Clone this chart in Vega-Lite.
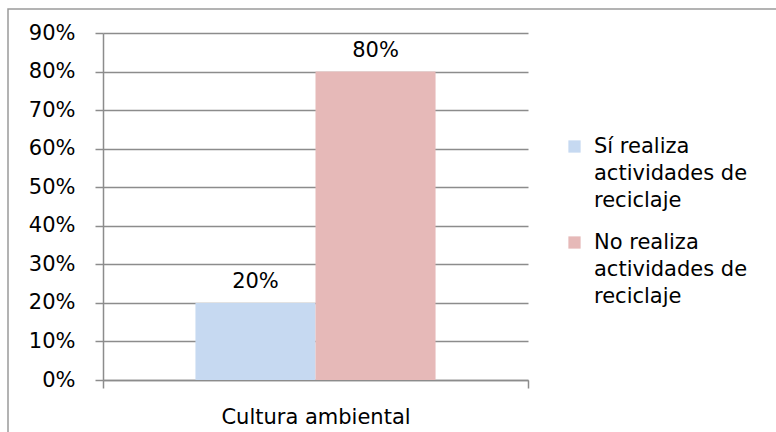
{
  "$schema": "https://vega.github.io/schema/vega-lite/v6.json",
  "width": 780,
  "height": 440,
  "autosize": {"type": "none"},
  "padding": {"left": 8, "top": 9, "right": 0, "bottom": 0},
  "background": "white",
  "data": {
    "values": [
      {"grupo": "Cultura ambiental", "serie": "Sí realiza actividades de reciclaje", "valor": 0.2},
      {"grupo": "Cultura ambiental", "serie": "No realiza actividades de reciclaje", "valor": 0.8}
    ]
  },
  "encoding": {
    "x": {
      "field": "grupo",
      "type": "nominal",
      "scale": {"range": [95, 520], "paddingInner": 0, "paddingOuter": 0},
      "axis": {
        "title": null,
        "offset": -69,
        "labelAngle": 0,
        "tickBand": "extent",
        "ticks": true,
        "tickSize": 8,
        "tickColor": "#8c8c8c",
        "tickWidth": 1.5,
        "domainColor": "#8c8c8c",
        "domainWidth": 1.5,
        "labelPadding": 18,
        "labelFontSize": 21,
        "labelLimit": 400,
        "labelColor": "#000000",
        "grid": false
      }
    },
    "xOffset": {
      "field": "serie",
      "type": "nominal",
      "sort": ["Sí realiza actividades de reciclaje", "No realiza actividades de reciclaje"],
      "scale": {"paddingInner": 0, "paddingOuter": 0.77}
    },
    "y": {
      "field": "valor",
      "type": "quantitative",
      "scale": {"domain": [0, 0.9], "range": [371, 24], "nice": false, "zero": true},
      "axis": {
        "title": null,
        "offset": -95,
        "values": [0, 0.1, 0.2, 0.3, 0.4, 0.5, 0.6, 0.7, 0.8, 0.9],
        "format": ".0%",
        "grid": true,
        "gridColor": "#8c8c8c",
        "gridWidth": 1.5,
        "tickSize": 8,
        "tickColor": "#8c8c8c",
        "tickWidth": 1.5,
        "domainColor": "#8c8c8c",
        "domainWidth": 1.5,
        "labelPadding": 20,
        "labelFontSize": 21,
        "labelColor": "#000000"
      }
    }
  },
  "layer": [
    {
      "mark": {"type": "bar"},
      "encoding": {
        "color": {
          "field": "serie",
          "type": "nominal",
          "sort": ["Sí realiza actividades de reciclaje", "No realiza actividades de reciclaje"],
          "scale": {
            "domain": ["Sí realiza actividades de reciclaje", "No realiza actividades de reciclaje"],
            "range": ["#c6d9f1", "#e6b9b8"]
          },
          "legend": {
            "title": null,
            "orient": "none",
            "legendX": 556,
            "legendY": 127,
            "padding": 0,
            "symbolType": "square",
            "symbolSize": 150,
            "symbolStrokeWidth": 0,
            "labelFontSize": 21,
            "labelColor": "#000000",
            "labelLimit": 400,
            "labelOffset": 9,
            "labelBaseline": "middle",
            "rowPadding": 20,
            "labelExpr": "datum.label == 'Sí realiza actividades de reciclaje' ? ['Sí realiza', 'actividades de', 'reciclaje'] : ['No realiza', 'actividades de', 'reciclaje']"
          }
        }
      }
    },
    {
      "mark": {"type": "text", "dy": -15, "baseline": "alphabetic", "fontSize": 21, "color": "#000000"},
      "encoding": {
        "text": {"field": "valor", "type": "quantitative", "format": ".0%"}
      }
    }
  ],
  "config": {
    "font": "DejaVu Sans",
    "view": {"stroke": "#9a9a9a", "strokeWidth": 1.5},
    "style": {"guide-label": {"lineHeight": 27}}
  }
}
